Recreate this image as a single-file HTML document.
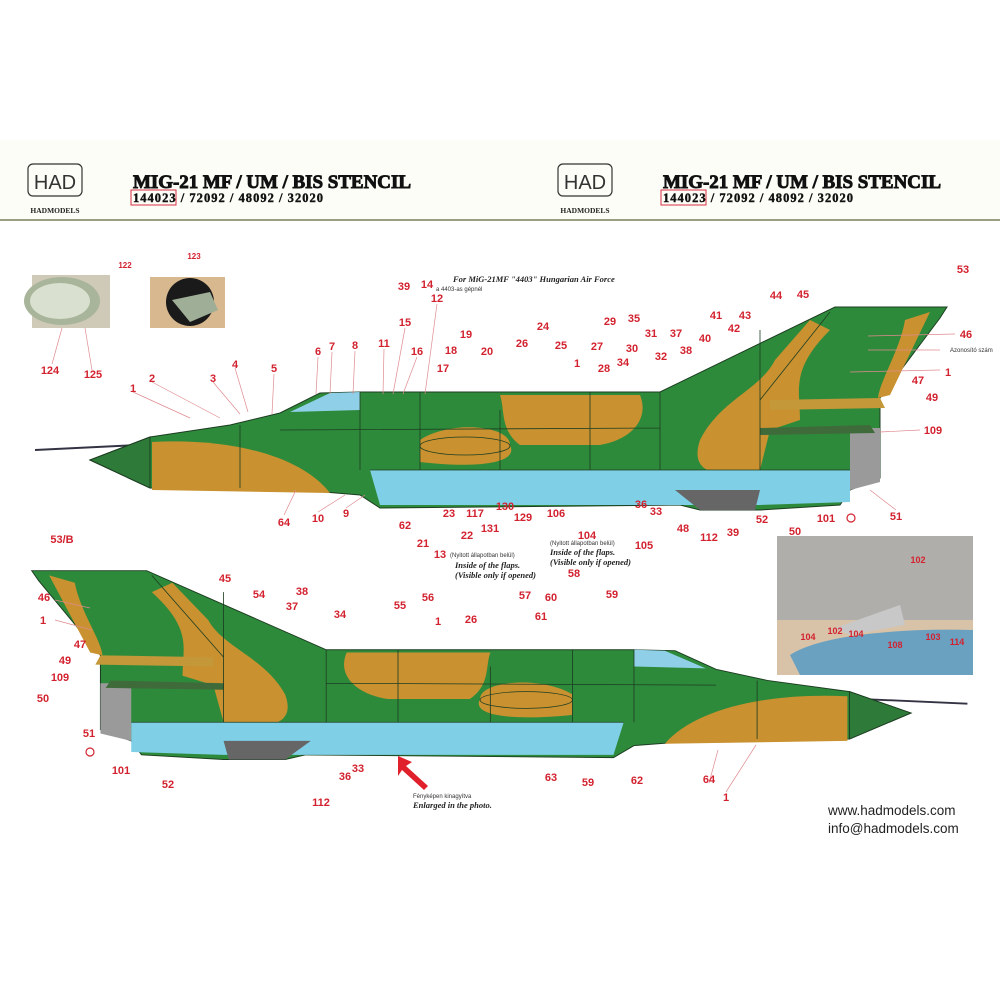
<!DOCTYPE html>
<html><head><meta charset="utf-8"><style>
html,body{margin:0;padding:0;background:#fff;}
svg{display:block}
.n{font-family:"Liberation Sans",sans-serif;font-weight:bold;font-size:11px;fill:#d3222f;text-anchor:middle}
.s{font-family:"Liberation Serif",serif;font-style:italic;font-weight:bold;font-size:8.5px;fill:#222}
.t{font-family:"Liberation Sans",sans-serif;font-size:6px;fill:#333}
.l{stroke:#e08a8f;stroke-width:0.7;fill:none}
.pl{stroke:#1d3d22;stroke-width:0.8;fill:none}
</style></head><body>
<svg width="1000" height="1000" viewBox="0 0 1000 1000" xmlns="http://www.w3.org/2000/svg">
<rect x="0" y="140" width="1000" height="80" fill="#fdfdf7"/>
<rect x="0" y="219" width="1000" height="2" fill="#9a9f82"/>
<g id="hd">
<rect x="28" y="164" width="54" height="32" rx="5" fill="none" stroke="#333" stroke-width="1.2"/>
<text x="55" y="189" font-family="Liberation Sans,sans-serif" font-size="20" text-anchor="middle" fill="#333">HAD</text>
<text x="55" y="213" font-family="Liberation Serif,serif" font-weight="bold" font-size="7.5" text-anchor="middle" fill="#222">HADMODELS</text>
<text x="133" y="188" font-family="Liberation Serif,serif" font-weight="bold" font-size="19" fill="#111" stroke="#111" stroke-width="0.9" textLength="278">MIG-21 MF / UM / BIS STENCIL</text>
<text x="133" y="202" font-family="Liberation Serif,serif" font-weight="bold" font-size="12.5" fill="#111" stroke="#111" stroke-width="0.4" textLength="190">144023 / 72092 / 48092 / 32020</text>
<rect x="131" y="190" width="45" height="15" fill="none" stroke="#d63040" stroke-width="1"/>
</g>
<use href="#hd" x="530" y="0"/>
<rect x="32" y="275" width="78" height="53" fill="#cfc9b8"/>
<ellipse cx="62" cy="301" rx="38" ry="24" fill="#a9b59b"/>
<ellipse cx="60" cy="301" rx="30" ry="18" fill="#d9e0cf"/>
<rect x="150" y="277" width="75" height="51" fill="#d8b88e"/>
<circle cx="190" cy="302" r="24" fill="#1a1a1a"/>
<polygon points="172,300 210,292 218,310 190,322" fill="#9fae96"/>
<g id="p1">
<line x1="35" y1="450" x2="240" y2="440" stroke="#334" stroke-width="2"/>
<path d="M90,460 L150,437 L230,425 L280,413 L320,393 L360,392 L660,392 L835,307 L947,307 L940,318 L880,398 L880,425 L880,478 L850,490 L840,505 L760,510 L700,510 L680,505 L380,508 L360,495 L300,490 L150,488 Z" fill="#2e8a3b" stroke="#1d3d22" stroke-width="1"/>
<path d="M152,442 C230,438 300,455 330,493 L152,490 Z" fill="#c9912f"/>
<path d="M420,440 C450,420 510,425 510,445 C520,465 470,468 420,462 Z" fill="#c9912f"/>
<path d="M500,395 L640,395 C650,420 630,440 600,445 L520,445 C500,430 505,410 500,395 Z" fill="#c9912f"/>
<path d="M700,440 C690,470 710,480 760,470 L770,430 L800,420 C800,390 790,370 830,330 L810,320 L775,360 C760,390 720,400 700,440 Z" fill="#c9912f"/>
<path d="M930,312 L905,320 C900,350 880,380 878,398 L890,395 Z" fill="#c9912f"/>
<path d="M370,470 L850,470 L850,502 L760,505 L700,505 L380,505 Z" fill="#7fcfe6"/>
<path d="M675,490 L760,490 L755,510 L700,510 Z" fill="#666"/>
<path d="M850,428 L880,428 L880,482 L850,490 Z" fill="#9a9a9a"/>
<path d="M290,412 L330,393 L360,392 L360,410 Z" fill="#8fd0e8"/>
<path d="M770,400 L880,398 L885,408 L770,410 Z" fill="#c49838"/>
<path d="M760,428 L870,425 L875,433 L760,435 Z" fill="#3f6b3a"/>
<path d="M90,460 L150,437 L150,488 Z" fill="#2e7a38" stroke="#1d3d22" stroke-width="1"/>
<path class="pl" d="M280,430 L660,428 M360,392 L360,470 M420,392 L420,470 M500,410 L500,470 M590,392 L590,470 M660,392 L660,470 M760,330 L760,470 M830,312 L760,400 M370,470 L850,470 M240,425 L240,488"/>
<ellipse cx="465" cy="446" rx="45" ry="9" fill="none" stroke="#1d3d22" stroke-width="0.8"/>
</g>
<use href="#p1" transform="translate(911,713) scale(-1.026,0.93) translate(-90,-460)"/>
<rect x="777" y="536" width="196" height="139" fill="#b0aeaa"/>
<rect x="777" y="620" width="196" height="55" fill="#d8c3a8"/>
<path d="M790,655 C820,635 900,628 973,630 L973,675 L800,675 Z" fill="#6aa0c0"/>
<path d="M835,628 L900,605 L905,625 L850,635 Z" fill="#c8c8c8"/>
<g class="l">
<line x1="133" y1="392" x2="190" y2="418"/><line x1="152" y1="382" x2="220" y2="418"/>
<line x1="213" y1="382" x2="240" y2="414"/><line x1="235" y1="368" x2="248" y2="412"/>
<line x1="274" y1="374" x2="272" y2="414"/><line x1="318" y1="357" x2="316" y2="394"/>
<line x1="332" y1="352" x2="330" y2="394"/><line x1="355" y1="351" x2="353" y2="394"/>
<line x1="384" y1="349" x2="383" y2="394"/><line x1="405" y1="328" x2="393" y2="394"/>
<line x1="417" y1="357" x2="403" y2="394"/><line x1="437" y1="304" x2="425" y2="394"/>
<line x1="62" y1="328" x2="52" y2="364"/><line x1="85" y1="328" x2="92" y2="370"/>
<line x1="868" y1="336" x2="955" y2="334"/><line x1="868" y1="350" x2="940" y2="350"/>
<line x1="850" y1="372" x2="940" y2="370"/><line x1="880" y1="432" x2="920" y2="430"/>
<line x1="55" y1="600" x2="90" y2="608"/><line x1="55" y1="620" x2="92" y2="630"/>
<line x1="284" y1="515" x2="296" y2="490"/><line x1="318" y1="512" x2="345" y2="495"/>
<line x1="346" y1="508" x2="365" y2="495"/><line x1="896" y1="510" x2="870" y2="490"/>
<line x1="709" y1="783" x2="718" y2="750"/><line x1="726" y1="792" x2="756" y2="745"/>
</g>
<g class="n">
<text x="125" y="268" font-size="8">122</text><text x="194" y="259" font-size="8">123</text>
<text x="50" y="374">124</text><text x="93" y="378">125</text>
<text x="133" y="392">1</text><text x="152" y="382">2</text><text x="213" y="382">3</text><text x="235" y="368">4</text><text x="274" y="372">5</text>
<text x="318" y="355">6</text><text x="332" y="350">7</text><text x="355" y="349">8</text><text x="384" y="347">11</text><text x="405" y="326">15</text><text x="417" y="355">16</text>
<text x="404" y="290">39</text><text x="437" y="302">12</text><text x="427" y="288">14</text>
<text x="443" y="372">17</text><text x="451" y="354">18</text><text x="466" y="338">19</text><text x="487" y="355">20</text>
<text x="522" y="347">26</text><text x="543" y="330">24</text><text x="561" y="349">25</text><text x="577" y="367">1</text><text x="597" y="350">27</text><text x="604" y="372">28</text>
<text x="610" y="325">29</text><text x="623" y="366">34</text><text x="632" y="352">30</text><text x="634" y="322">35</text><text x="651" y="337">31</text><text x="661" y="360">32</text>
<text x="676" y="337">37</text><text x="686" y="354">38</text><text x="705" y="342">40</text><text x="716" y="319">41</text><text x="734" y="332">42</text><text x="745" y="319">43</text>
<text x="776" y="299">44</text><text x="803" y="298">45</text><text x="963" y="273">53</text><text x="966" y="338">46</text><text x="948" y="376">1</text>
<text x="918" y="384">47</text><text x="932" y="401">49</text><text x="933" y="434">109</text>
<text x="284" y="526">64</text><text x="318" y="522">10</text><text x="346" y="517">9</text><text x="405" y="529">62</text><text x="423" y="547">21</text>
<text x="449" y="517">23</text><text x="467" y="539">22</text><text x="475" y="517">117</text><text x="490" y="532">131</text><text x="505" y="510">130</text><text x="523" y="521">129</text>
<text x="556" y="517">106</text><text x="587" y="539">104</text><text x="644" y="549">105</text><text x="641" y="508">36</text><text x="656" y="515">33</text>
<text x="683" y="532">48</text><text x="709" y="541">112</text><text x="733" y="536">39</text><text x="762" y="523">52</text><text x="795" y="535">50</text><text x="826" y="522">101</text><text x="896" y="520">51</text>
<text x="440" y="558">13</text><text x="574" y="577">58</text>
<text x="62" y="543">53/B</text><text x="44" y="601">46</text><text x="43" y="624">1</text><text x="80" y="648">47</text><text x="65" y="664">49</text><text x="60" y="681">109</text>
<text x="43" y="702">50</text><text x="89" y="737">51</text><text x="121" y="774">101</text><text x="168" y="788">52</text>
<text x="225" y="582">45</text><text x="259" y="598">54</text><text x="302" y="595">38</text><text x="292" y="610">37</text><text x="340" y="618">34</text>
<text x="400" y="609">55</text><text x="428" y="601">56</text><text x="438" y="625">1</text><text x="471" y="623">26</text>
<text x="525" y="599">57</text><text x="551" y="601">60</text><text x="541" y="620">61</text><text x="612" y="598">59</text>
<text x="345" y="780">36</text><text x="358" y="772">33</text><text x="321" y="806">112</text>
<text x="551" y="781">63</text><text x="588" y="786">59</text><text x="637" y="784">62</text><text x="709" y="783">64</text><text x="726" y="801">1</text>
<text x="918" y="563" font-size="9">102</text><text x="808" y="640" font-size="9">104</text>
<text x="835" y="634" font-size="9">102</text><text x="856" y="637" font-size="9">104</text><text x="895" y="648" font-size="9">108</text><text x="933" y="640" font-size="9">103</text><text x="957" y="645" font-size="9">114</text>
</g>
<g fill="none" stroke="#d3222f" stroke-width="1.2">
<circle cx="851" cy="518" r="4"/><circle cx="90" cy="752" r="4"/>
</g>
<polygon points="398,756 412,762 406,766 428,786 424,790 402,770 398,776" fill="#e0202a"/>
<g>
<text class="s" x="453" y="282" font-size="6.5">For MiG-21MF "4403" Hungarian Air Force</text>
<text class="t" x="436" y="291">a 4403-as gépnél</text>
<text class="t" x="950" y="352">Azonosító szám</text>
<text class="t" x="450" y="557">(Nyitott állapotban belül)</text>
<text class="s" x="455" y="568">Inside of the flaps.</text>
<text class="s" x="455" y="578">(Visible only if opened)</text>
<text class="t" x="550" y="545">(Nyitott állapotban belül)</text>
<text class="s" x="550" y="555">Inside of the flaps.</text>
<text class="s" x="550" y="565">(Visible only if opened)</text>
<text class="t" x="413" y="798">Fényképen kinagyítva</text>
<text class="s" x="413" y="808">Enlarged in the photo.</text>
<text x="828" y="815" font-family="Liberation Sans,sans-serif" font-size="13.5" fill="#222">www.hadmodels.com</text>
<text x="828" y="833" font-family="Liberation Sans,sans-serif" font-size="13.5" fill="#222">info@hadmodels.com</text>
</g>
</svg>
</body></html>
